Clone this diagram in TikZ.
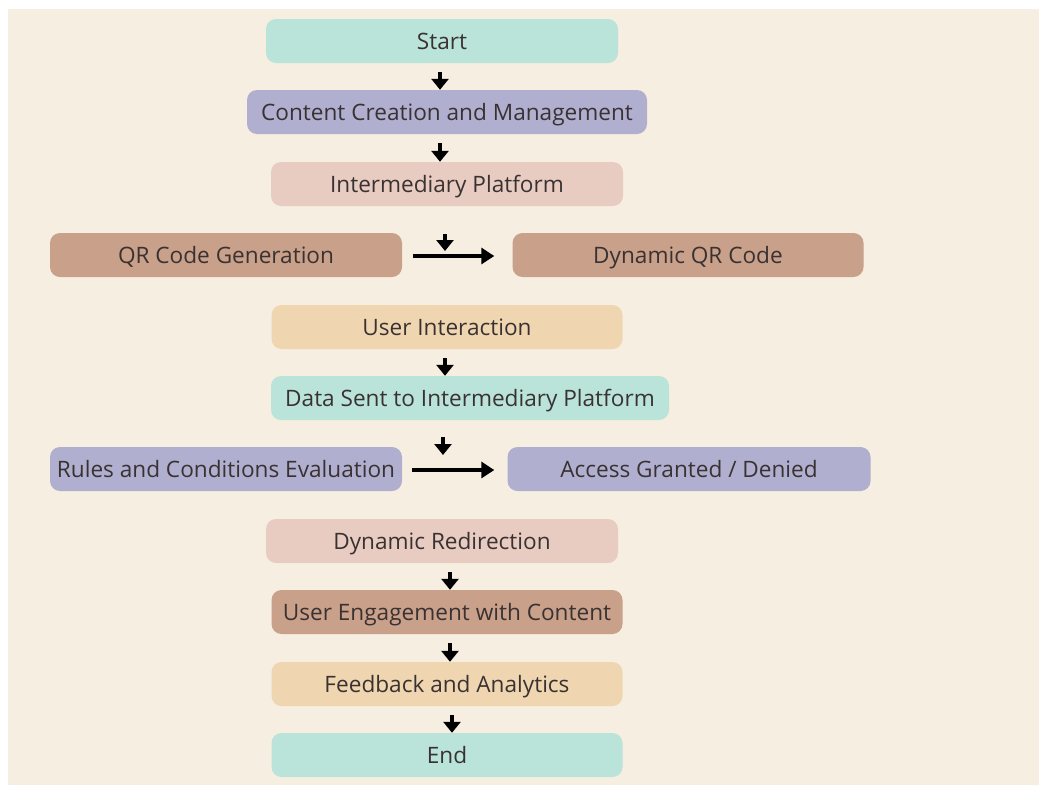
\documentclass[tikz,border=0pt]{standalone}
\usepackage{fontspec}
\setmainfont{Open Sans}
\usetikzlibrary{arrows.meta}
\definecolor{paper}{HTML}{F6EEE0}
\definecolor{teal}{HTML}{BAE3DA}
\definecolor{lav}{HTML}{B0AFD0}
\definecolor{rose}{HTML}{E8CCC1}
\definecolor{clay}{HTML}{C9A089}
\definecolor{peach}{HTML}{F0D6B0}
\definecolor{ink}{HTML}{3A3232}
\tikzset{
  box/.style={rounded corners=10pt, minimum height=44pt, inner sep=0pt,
    text height=16pt, text depth=0pt,
    text=ink, font=\fontsize{22.6}{26}\selectfont},
  darr/.style={line width=4.5pt, draw=black,
    -{Triangle[width=17pt,length=11pt]}},
  harr/.style={line width=3.5pt, draw=black,
    -{Triangle[width=16pt,length=13pt]}},
}
\begin{document}
\begin{tikzpicture}[x=1pt,y=-1pt]
\useasboundingbox (0,0) rectangle (1039,785);
\fill[white] (0,0) rectangle (1039,785);
\fill[paper] (8,9) rectangle (1039,785);

% main column of steps
\node[box, fill=teal,  minimum width=352pt] (start) at (442,41)  {Start};
\node[box, fill=lav,   minimum width=400pt] (ccm)   at (447,112) {Content Creation and Management};
\node[box, fill=rose,  minimum width=352pt] (ip)    at (447,184) {Intermediary Platform};
\node[box, fill=clay,  minimum width=352pt] (qr)    at (226,255) {QR Code Generation};
\node[box, fill=clay,  minimum width=351pt] (dqr)   at (688,255) {Dynamic QR Code};
\node[box, fill=peach, minimum width=351pt] (ui)    at (447,327) {User Interaction};
\node[box, fill=teal,  minimum width=398pt] (ds)    at (470,398) {Data Sent to Intermediary Platform};
\node[box, fill=lav,   minimum width=352pt] (rules) at (226,469) {Rules and Conditions Evaluation};
\node[box, fill=lav,   minimum width=363pt] (acc)   at (689,469) {Access Granted / Denied};
\node[box, fill=rose,  minimum width=352pt] (dr)    at (442,541) {Dynamic Redirection};
\node[box, fill=clay,  minimum width=351pt] (ue)    at (447,612) {User Engagement with Content};
\node[box, fill=peach, minimum width=351pt] (fa)    at (447,684) {Feedback and Analytics};
\node[box, fill=teal,  minimum width=351pt] (end)   at (447,755) {End};

% x positions of the short vertical arrows
\coordinate (c1) at (440,0);
\coordinate (c2) at (445,0);
\coordinate (c3) at (443,0);
\coordinate (c4) at (450,0);
\coordinate (c5) at (452,0);
\coordinate (tipA) at (445,251);
\coordinate (tipB) at (443,455);

\draw[darr, shorten <=9pt]  (start.south -| c1) -- (ccm.north -| c1);
\draw[darr, shorten <=9pt]  (ccm.south -| c1)   -- (ip.north -| c1);
\draw[darr, shorten <=28pt] (ip.south -| c2)    -- (tipA);
\draw[harr, shorten <=11pt, shorten >=18pt] (qr.east |- 0,256) -- (dqr.west |- 0,256);
\draw[darr, shorten <=9pt]  (ui.south -| c2)    -- (ds.north -| c2);
\draw[darr, shorten <=17pt] (ds.south -| c3)    -- (tipB);
\draw[harr, shorten <=10pt, shorten >=13pt] (rules.east |- 0,470) -- (acc.west |- 0,470);
\draw[darr, shorten <=9pt]  (dr.south -| c4)    -- (ue.north -| c4);
\draw[darr, shorten <=9pt]  (ue.south -| c4)    -- (fa.north -| c4);
\draw[darr, shorten <=9pt]  (fa.south -| c5)    -- (end.north -| c5);
\end{tikzpicture}
\end{document}
